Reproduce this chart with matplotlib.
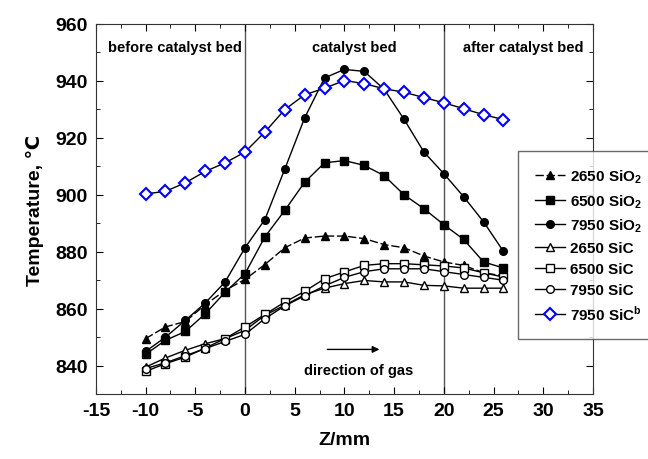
import numpy as np
import matplotlib
matplotlib.use("Agg")
import matplotlib.pyplot as plt

plt.rcParams['font.family'] = ['Liberation Sans', 'DejaVu Sans']
plt.rcParams['font.weight'] = 'bold'
plt.rcParams['axes.labelweight'] = 'bold'
plt.rcParams['axes.unicode_minus'] = False
plt.rcParams['mathtext.fontset'] = 'custom'
plt.rcParams['mathtext.rm'] = 'Liberation Sans:bold'
plt.rcParams['mathtext.bf'] = 'Liberation Sans:bold'

# axial position in the reactor, mm
z = np.arange(-10, 27, 2)

t_2650_sio2 = [849.5, 853.6, 855.5, 861.4, 866.4, 870.3, 875.5, 881.4, 884.8, 885.5,
               885.5, 884.6, 882.5, 881.4, 878.5, 876.4, 875.2, 872.6, 871.5]
t_6500_sio2 = [844, 848.9, 852, 858.2, 865.8, 872.3, 885.2, 894.5, 904.4, 911.2,
               912, 910.3, 906.7, 900, 895.1, 889.5, 884.3, 876.4, 874.3]
t_7950_sio2 = [845, 850, 855.9, 862, 869.4, 881.4, 891.3, 909, 927, 941,
               944, 943.3, 937, 926.5, 915, 907.4, 899.3, 890.5, 880.1]
t_2650_sic = [839.5, 842.7, 845.4, 847.7, 849.5, 852.4, 857.7, 861.2, 864.9, 867.2,
              868.8, 869.9, 869.4, 869.4, 868.2, 868, 867.2, 867.2, 867.2]
t_6500_sic = [838, 840.7, 843, 846.2, 849.5, 853.6, 858, 862.3, 866.1, 870.5,
              872.9, 875.2, 875.8, 875.8, 875.4, 875, 874.3, 872.6, 871.1]
t_7950_sic = [839, 841, 843.5, 846, 848.5, 851, 856.5, 861, 864.5, 868,
              871, 873, 874, 874, 874, 873, 872, 871, 870]
t_7950_sic_b = [900.3, 901.2, 904.2, 908.2, 911.2, 915, 922, 929.9, 935.1, 937.4,
                940.1, 939, 937.2, 936, 934.1, 932.3, 930.2, 928.1, 926.4]

xticks = np.arange(-15, 36, 5)
yticks = np.arange(840, 961, 20)

fig = plt.figure(figsize=(6.48, 4.6), dpi=100)
ax = fig.add_axes([0.148, 0.141, 0.767, 0.805])

kw = dict(color='black', lw=1.0, ms=5.5)
ax.plot(z, t_2650_sio2, marker='^', ls=(0, (6, 2)), label=r'2650 SiO$_\mathbf{2}$', **kw)
ax.plot(z, t_6500_sio2, marker='s', label=r'6500 SiO$_\mathbf{2}$', **kw)
ax.plot(z, t_7950_sio2, marker='o', label=r'7950 SiO$_\mathbf{2}$', **kw)
ax.plot(z, t_2650_sic, marker='^', mfc='white', label='2650 SiC', **kw)
ax.plot(z, t_6500_sic, marker='s', mfc='white', label='6500 SiC', **kw)
ax.plot(z, t_7950_sic, marker='o', mfc='white', label='7950 SiC', **kw)
ax.plot(z, t_7950_sic_b, marker='D', mfc='white', mec='blue', mew=1.5,
        color='black', lw=1.0, ms=6, label=r'7950 SiC$^\mathbf{b}$')

# catalyst bed boundaries
for zb in (0, 20):
    ax.axvline(zb, color='#555555', lw=1.0, zorder=0)

ax.text(-7, 952, 'before catalyst bed', ha='center', va='center', fontsize=10.5)
ax.text(11, 952, 'catalyst bed', ha='center', va='center', fontsize=10.5)
ax.text(28, 952, 'after catalyst bed', ha='center', va='center', fontsize=10.5)

ax.annotate('', xy=(13.8, 845.7), xytext=(8, 845.7),
            arrowprops=dict(arrowstyle='-|>', color='black', lw=1.0,
                            mutation_scale=10))
ax.text(11.4, 838.3, 'direction of gas', ha='center', va='center', fontsize=10.5)

ax.set_xlim(-15, 35)
ax.set_ylim(830, 960)
ax.set_xticks(xticks, labels=[str(v) for v in xticks], fontweight='bold')
ax.set_xticks(np.arange(-15, 36, 2.5), minor=True)
ax.set_yticks(yticks, labels=[str(v) for v in yticks], fontweight='bold')
ax.set_yticks(np.arange(830, 961, 10), minor=True)
ax.tick_params(which='both', direction='in', top=True, right=True)
ax.tick_params(which='major', length=5, labelsize=14, pad=6)
ax.tick_params(which='minor', length=3)
for s in ax.spines.values():
    s.set_color('#333333')

ax.set_xlabel('Z/mm', fontsize=14, labelpad=8)
ax.set_ylabel('Temperature, \u2103', fontsize=14, labelpad=8)

leg = ax.legend(loc='upper left', bbox_to_anchor=(0.799, 0.67),
                bbox_transform=fig.transFigure, fontsize=11, frameon=True,
                fancybox=False, edgecolor='#444444', handlelength=2.0,
                handletextpad=0.3, labelspacing=0.45, borderpad=1.1,
                borderaxespad=0)
leg.get_frame().set_linewidth(1.0)

fig.savefig('out.png', dpi=100)
